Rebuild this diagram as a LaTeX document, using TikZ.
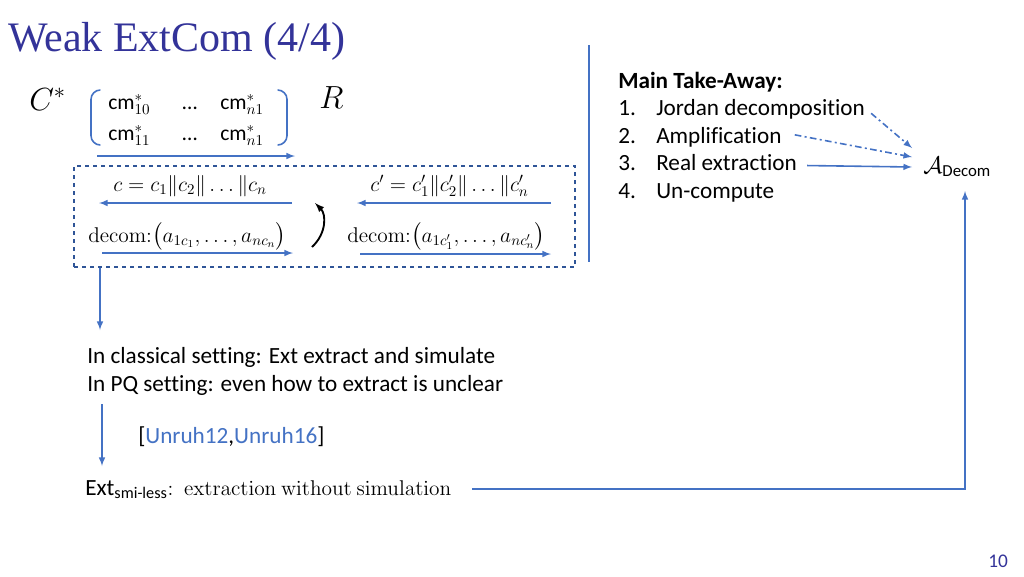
\RequirePackage{fix-cm}
\documentclass[tikz,border=0pt]{standalone}
\usepackage{amsmath}
\usepackage[no-math]{fontspec}
\setmainfont{Carlito}[Ligatures={NoCommon}]
\newfontfamily\titlefont{Liberation Serif}
\usepackage{tikz}

\definecolor{slideblue}{RGB}{68,114,196}
\definecolor{boxblue}{RGB}{47,85,151}
\definecolor{titleblue}{RGB}{51,51,153}

\tikzset{
  txt/.style={anchor=base west,inner sep=0pt,font=\fontsize{17.4}{21}\selectfont},
  mth/.style={anchor=base west,inner sep=0pt,font=\fontsize{16}{19}\selectfont},
  cell/.style={anchor=base west,inner sep=0pt,font=\fontsize{16.2}{19}\selectfont},
  flow/.style={slideblue,line width=1.2pt,-latex},
  dashdot/.style={dash pattern=on 5pt off 2.5pt on 1.5pt off 2.5pt},
}

\begin{document}
\begin{tikzpicture}[x=0.75pt,y=-0.75pt]
      \useasboundingbox (0,0) rectangle (1024,576);
      \node[anchor=base west,inner sep=0pt,text=titleblue,font=\titlefont\fontsize{31.5}{36}\selectfont] (title) at (8,51) {Weak ExtCom (4/4)};

      \node[mth,font=\fontsize{24}{28}\selectfont] (cstar) at (29,110) {$C^*$};
      \node[mth,font=\fontsize{24}{28}\selectfont] (rr) at (319,108) {$R$};
      \node[cell] (m10) at (108,109) {cm$^*_{10}$};
      \node[cell] (m0dots) at (182,109) {…};
      \node[cell] (mn1) at (220,109) {cm$^*_{n1}$};
      \node[cell] (m11) at (108,140) {cm$^*_{11}$};
      \node[cell] (m1dots) at (182,140) {…};
      \node[cell] (mn1b) at (220,140) {cm$^*_{n1}$};
      \draw[slideblue,line width=1.2pt,rounded corners=7pt] (100,90) -- (91,90) -- (91,145) -- (100,145);
      \draw[slideblue,line width=1.2pt,rounded corners=7pt] (278,90) -- (287,90) -- (287,145) -- (278,145);
      \coordinate (top0) at (97,156);
      \coordinate (top1) at (295,156);
      \draw[flow] (top0) -- (top1);

      \node[draw=boxblue,dashed,line width=1pt,minimum width=375.75pt,minimum height=75.75pt,inner sep=0pt] (bigbox) at (324.5,216.5) {};
      \node[mth] (cc) at (113,191) {$c = c_1\|c_2\|\ldots\|c_n$};
      \node[mth] (dc) at (88,242) {$\mathrm{decom{:}}\bigl(a_{1c_1},\ldots,a_{nc_n}\bigr)$};
      \node[mth] (cp) at (370,191) {$c' = c'_1\|c'_2\|\ldots\|c'_n$};
      \node[mth] (dcp) at (347,242) {$\mathrm{decom{:}}\bigl(a_{1c'_1},\ldots,a_{nc'_n}\bigr)$};
      \coordinate (cl0) at (292,203);
      \coordinate (cl1) at (99,203);
      \coordinate (dl0) at (102,253);
      \coordinate (dl1) at (293,253);
      \coordinate (cr0) at (551,203);
      \coordinate (cr1) at (357,203);
      \coordinate (dr0) at (360,254);
      \coordinate (dr1) at (551,254);
      \draw[flow] (cl0) -- (cl1);
      \draw[flow] (dl0) -- (dl1);
      \draw[flow] (cr0) -- (cr1);
      \draw[flow] (dr0) -- (dr1);
      \coordinate (sw0) at (312,247);
      \coordinate (sw1) at (315,203);
      \draw[line width=1.4pt,-latex] (sw0) .. controls (327,233) and (326,214) .. (sw1);

      \draw[slideblue,line width=1.4pt] (589,45) -- (589,262);

      \node[txt,font=\fontsize{17.4}{21}\selectfont\bfseries] (main) at (618,88) {Main Take-Away:};
      \node[txt] (n1) at (618,115.5) {1.};
      \node[txt] (jordan) at (656,115.5) {Jordan decomposition};
      \node[txt] (n2) at (618,143) {2.};
      \node[txt] (ampl) at (656,143) {Amplification};
      \node[txt] (n3) at (618,170.5) {3.};
      \node[txt] (real) at (656,170.5) {Real extraction};
      \node[txt] (n4) at (618,198) {4.};
      \node[txt] (uncomp) at (656,198) {Un-compute};
      \node[mth,font=\fontsize{18}{21}\selectfont] (adecom) at (923,173) {$\mathcal{A}_{\text{Decom}}$};
      \coordinate (in1) at (912,148);
      \coordinate (in2) at (912,157);
      \coordinate (in3) at (912,167);
      \draw[flow,dashdot] (jordan.east) ++(6,4) coordinate (j0) (j0) -- (in1);
      \draw[flow,dashdot] (ampl.east) ++(13,-2) coordinate (a0) (a0) -- (in2);
      \draw[flow] (real.east) ++(10,3) coordinate (r0) (r0) -- (in3);

      \coordinate (d1) at (100,330);
      \draw[flow] (d1 |- bigbox.south) -- (d1);
      \node[txt] (classic) at (87,363) {In classical setting: Ext extract and simulate};
      \node[txt] (pq) at (87,391) {In PQ setting: even how to extract is unclear};
      \coordinate (d2a) at (102,404);
      \coordinate (d2b) at (102,466);
      \draw[flow] (d2a) -- (d2b);
      \node[txt] (cite) at (138,443) {[\textcolor{slideblue}{Unruh12},\textcolor{slideblue}{Unruh16}]};
      \node[txt] (ext) at (85,495) {Ext$_{\text{smi-less}}${\fontsize{16}{19}\selectfont$\mathrm{:\ extraction\ without\ simulation}$}};
      \coordinate (l0) at (472,489);
      \coordinate (l1) at (965,191);
      \draw[flow] (l0) -| (l1);

      \node[txt,text=titleblue,font=\fontsize{14.5}{17}\selectfont] (pagenum) at (988,567) {10};
\end{tikzpicture}
\end{document}
